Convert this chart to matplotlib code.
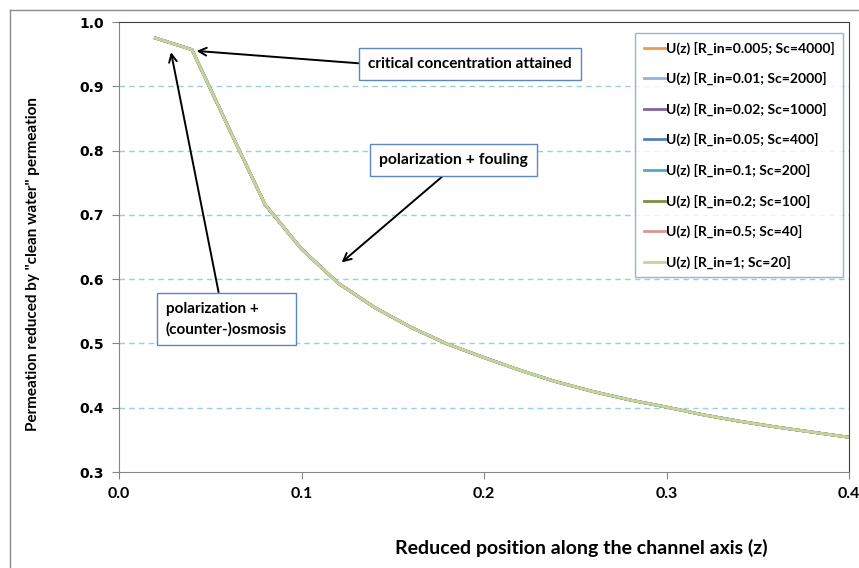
import matplotlib
matplotlib.use("Agg")
import matplotlib.pyplot as plt
from matplotlib.lines import Line2D

# reduced position z and permeation U(z)
z = [0.02, 0.04, 0.06, 0.08, 0.10, 0.12, 0.14, 0.16, 0.18, 0.20,
     0.22, 0.24, 0.26, 0.28, 0.30, 0.32, 0.34, 0.36, 0.38, 0.40]
U_z = [0.975, 0.957, 0.836, 0.716, 0.647, 0.594, 0.556, 0.525, 0.499, 0.478,
       0.458, 0.440, 0.425, 0.412, 0.401, 0.389, 0.379, 0.370, 0.362, 0.354]

series_labels = ["U(z) [R_in=0.005; Sc=4000]",
                 "U(z) [R_in=0.01; Sc=2000]",
                 "U(z) [R_in=0.02; Sc=1000]",
                 "U(z) [R_in=0.05; Sc=400]",
                 "U(z) [R_in=0.1; Sc=200]",
                 "U(z) [R_in=0.2; Sc=100]",
                 "U(z) [R_in=0.5; Sc=40]",
                 "U(z) [R_in=1; Sc=20]"]
colors = ["#F79646", "#95B3D7", "#8064A2", "#4F81BD",
          "#4BACC6", "#77933C", "#D99694", "#C3D69B"]

x_ticks = [0.0, 0.1, 0.2, 0.3, 0.4]
y_ticks = [0.3, 0.4, 0.5, 0.6, 0.7, 0.8, 0.9, 1.0]

W, H = 859, 568
fig = plt.figure(figsize=(W / 100, H / 100), dpi=100)
ax = fig.add_axes([119 / W, 1 - 472 / H, (849 - 119) / W, (472 - 22) / H])

for lab, col in zip(series_labels, colors):
    ax.plot(z, U_z, color=col, lw=2.0, label=lab, solid_joinstyle="miter")

ax.set_xlim(0, 0.4)
ax.set_ylim(0.3, 1.0)
ax.set_xticks(x_ticks)
ax.set_yticks(y_ticks)
ax.set_xticklabels(["%.1f" % v for v in x_ticks], fontfamily="Lato",
                   fontweight="bold", fontsize=11.5)
ax.set_yticklabels(["%.1f" % v for v in y_ticks], fontfamily="DejaVu Sans",
                   fontweight="bold", fontsize=10)
ax.tick_params(axis="both", direction="out", length=5, color="#868686",
               pad=6)

for g in y_ticks[1:-1]:
    ax.axhline(g, color="#9ACFDF", lw=1.0, ls=(0, (4, 3)), zorder=0)

for s in ["left", "bottom"]:
    ax.spines[s].set_color("#868686")
for s in ["top", "right"]:
    ax.spines[s].set_color("#404040")

fig.text(395 / W, 1 - 548 / H, "Reduced position along the channel axis (z)",
         fontfamily="Lato", fontweight="bold", fontsize=14,
         ha="left", va="center")
fig.text(33 / W, 1 - 264 / H, 'Permeation reduced by "clean water" permeation',
         fontfamily="Lato", fontweight="bold", fontsize=11,
         rotation=90, ha="center", va="center")

leg = ax.legend(loc="upper right", bbox_to_anchor=(843 / W, 1 - 33 / H),
                bbox_transform=fig.transFigure, frameon=True, fancybox=False,
                prop={"family": "Lato", "weight": "bold", "size": 10},
                handlelength=1.5, handletextpad=0.1, labelspacing=1.25,
                borderpad=0.6, borderaxespad=0)
leg.get_frame().set_edgecolor("#7F9FCF")
leg.get_frame().set_linewidth(1.0)

box = dict(boxstyle="square,pad=0.6", fc="white", ec="#5B86C5", lw=1.0)
arrow = dict(arrowstyle="->", color="black", lw=1.4, mutation_scale=14,
             shrinkA=0, shrinkB=0)

ax.annotate("critical concentration attained", xy=(0.0425, 0.955),
            xytext=(368, H - 64), textcoords="figure pixels",
            fontfamily="Lato", fontweight="bold", fontsize=11,
            ha="left", va="center", bbox=box,
            arrowprops=dict(arrow, relpos=(0, 0.5)))
ax.annotate("polarization + fouling", xy=(0.122, 0.626),
            xytext=(379, H - 160), textcoords="figure pixels",
            fontfamily="Lato", fontweight="bold", fontsize=11.3,
            ha="left", va="center", bbox=box,
            arrowprops=dict(arrow, relpos=(0.5, 0)))
ax.annotate("polarization +\n(counter-)osmosis", xy=(0.0285, 0.953),
            xytext=(166, H - 319), textcoords="figure pixels",
            fontfamily="Lato", fontweight="bold", fontsize=11,
            ha="left", va="center", linespacing=1.5, bbox=box,
            arrowprops=dict(arrow, relpos=(0.45, 1)))

# outer chart border (cropped on the right and bottom)
fig.add_artist(Line2D([10 / W, 1], [1 - 10 / H, 1 - 10 / H],
                      transform=fig.transFigure, color="#8C8C8C", lw=1))
fig.add_artist(Line2D([10 / W, 10 / W], [0, 1 - 10 / H],
                      transform=fig.transFigure, color="#8C8C8C", lw=1))

fig.savefig("out.png", dpi=100)
